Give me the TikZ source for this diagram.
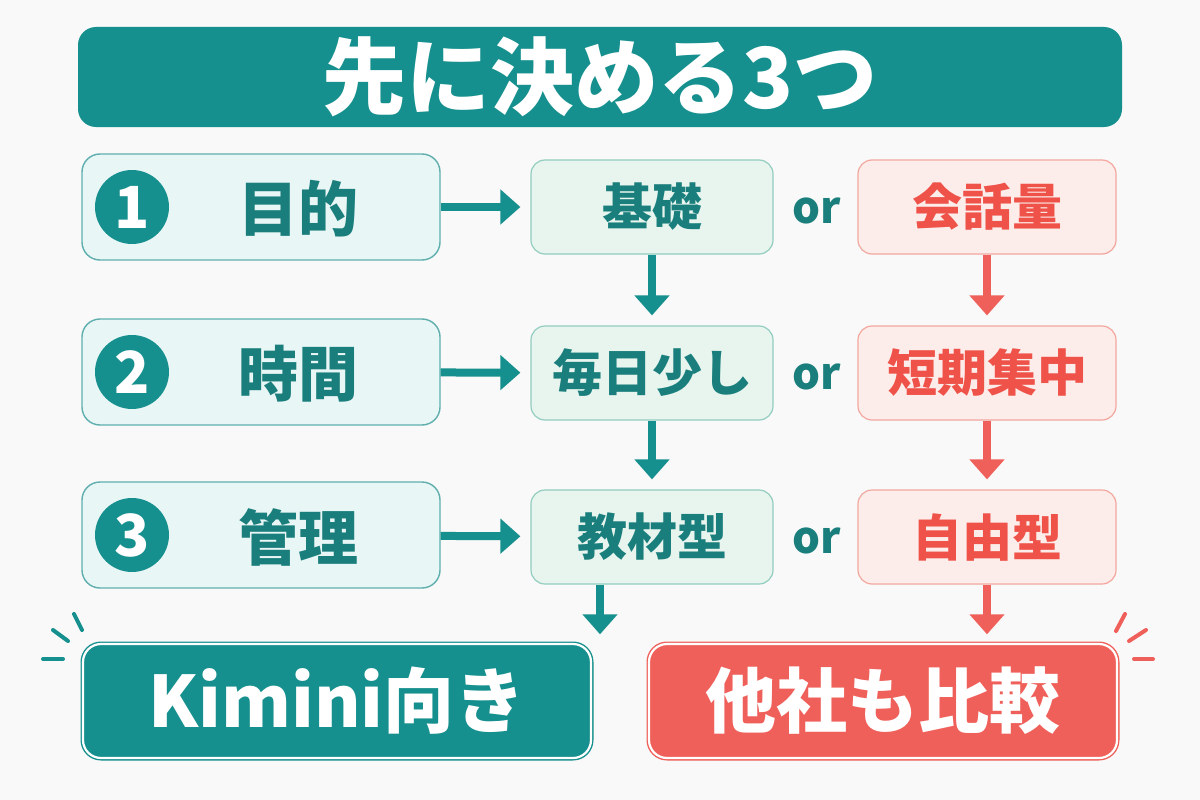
\documentclass[tikz,border=0pt]{standalone}
\usepackage{fontspec}
\setmainfont{Noto Sans CJK JP}
\usetikzlibrary{arrows.meta}

\definecolor{kteal}{HTML}{16908E}
\definecolor{ktext}{HTML}{1A7F7C}
\definecolor{kcoral}{HTML}{F0605A}
\definecolor{kred}{HTML}{EE5249}
\definecolor{leftfill}{HTML}{E9F6F6}
\definecolor{leftline}{HTML}{5EAFAE}
\definecolor{midfill}{HTML}{E8F5EF}
\definecolor{midline}{HTML}{93CDBF}
\definecolor{rightfill}{HTML}{FDEDEA}
\definecolor{rightline}{HTML}{F3A79F}
\definecolor{paper}{HTML}{F8F9F8}

\begin{document}
\begin{tikzpicture}[x=1pt, y=-1pt,
    leftbox/.style={draw=leftline, fill=leftfill, line width=1.4pt, rounded corners=18pt,
        minimum width=358pt, minimum height=106pt},
    midbox/.style={draw=midline, fill=midfill, line width=1.2pt, rounded corners=14pt,
        minimum width=242pt, minimum height=94pt, text=ktext,
        font=\fontsize{50}{54}\selectfont\bfseries},
    rightbox/.style={draw=rightline, fill=rightfill, line width=1.2pt, rounded corners=14pt,
        minimum width=258pt, minimum height=94pt, text=kred,
        font=\fontsize{50}{54}\selectfont\bfseries},
    numdot/.style={circle, fill=kteal, minimum size=74pt, inner sep=0pt, text=white,
        font=\fontsize{58}{62}\selectfont\bfseries},
    leftlabel/.style={text=ktext, font=\fontsize{60}{64}\selectfont\bfseries},
    orlabel/.style={text=ktext, font=\fontsize{44}{48}\selectfont\bfseries},
    endbox/.style={rounded corners=18pt, line width=1.4pt, double=white, double distance=2.2pt,
        minimum height=114pt, text=white, font=\fontsize{71}{75}\selectfont\bfseries},
    tarrow/.style={line width=8pt, draw=kteal, -{Triangle[length=20pt, width=34pt]}},
    carrow/.style={line width=8pt, draw=kcoral, -{Triangle[length=20pt, width=34pt]}},
    spark/.style={line width=4pt, line cap=round}]

    \useasboundingbox[fill=paper] (0,0) rectangle (1200,800);

    % title
    \node[fill=kteal, rounded corners=18pt, minimum width=1044pt, minimum height=100pt,
        text=white, font=\fontsize{84}{88}\selectfont\bfseries] (title) at (600,77) {先に決める3つ};

    % the three questions
    \node[leftbox] (q1) at (261,207) {};
    \node[leftbox] (q2) at (261,372) {};
    \node[leftbox] (q3) at (261,535) {};
    \node[numdot] (n1) at (132,207) {1};
    \node[numdot] (n2) at (132,372) {2};
    \node[numdot] (n3) at (132,535) {3};
    \node[leftlabel] (l1) at (298,209) {目的};
    \node[leftlabel] (l2) at (298,374) {時間};
    \node[leftlabel] (l3) at (298,537) {管理};

    % choices
    \node[midbox] (a1) at (652,207) {基礎};
    \node[midbox] (a2) at (652,373) {毎日少し};
    \node[midbox] (a3) at (652,537) {教材型};
    \node[rightbox] (b1) at (987,207) {会話量};
    \node[rightbox] (b2) at (987,373) {短期集中};
    \node[rightbox] (b3) at (987,537) {自由型};
    \node[orlabel] (or1) at (817,211) {or};
    \node[orlabel] (or2) at (817,377) {or};
    \node[orlabel] (or3) at (817,541) {or};

    % results
    \node[endbox, draw=kteal, fill=kteal, minimum width=508pt] (kimini) at (337,701) {Kimini向き};
    \node[endbox, draw=kcoral, fill=kcoral, minimum width=468pt] (hikaku) at (883,701) {他社も比較};

    % arrows
    \draw[tarrow, shorten >=10pt] (q1) -- (a1);
    \draw[tarrow, shorten >=10pt] (q2) -- (a2);
    \draw[tarrow, shorten >=10pt] (q3) -- (a3);
    \draw[tarrow, shorten >=10pt] (a1) -- (a2);
    \draw[tarrow, shorten >=10pt] (a2) -- (a3);
    \draw[carrow, shorten >=10pt] (b1) -- (b2);
    \draw[carrow, shorten >=10pt] (b2) -- (b3);
    \coordinate (a3out) at (a3.south -| 600,0);
    \draw[tarrow, shorten >=9pt] (a3out) -- (a3out |- kimini.north);
    \draw[carrow, shorten >=9pt] (b3) -- (b3 |- hikaku.north);

    % little sparks
    \draw[spark, kteal] (43,659) -- (63,659);
    \draw[spark, kteal] (53,630) -- (68,641);
    \draw[spark, kteal] (74,614) -- (82,630);
    \draw[spark, kcoral] (1116,631) -- (1125,614);
    \draw[spark, kcoral] (1129,641) -- (1146,630);
    \draw[spark, kcoral] (1134,659) -- (1153,659);
\end{tikzpicture}
\end{document}
